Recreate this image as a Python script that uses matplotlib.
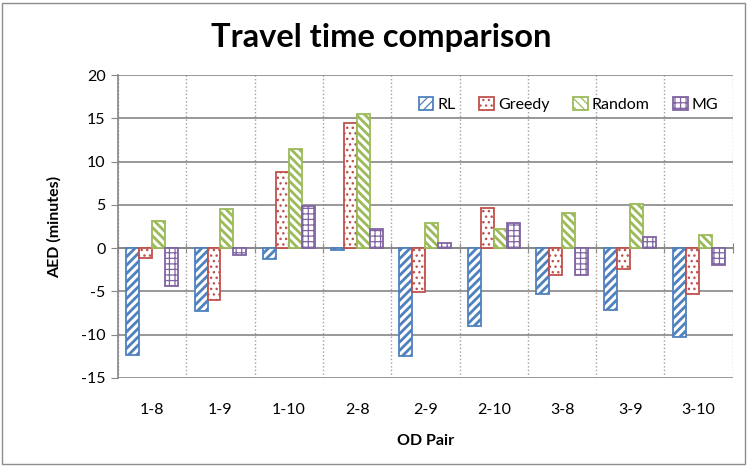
import matplotlib
matplotlib.use("Agg")
import matplotlib.pyplot as plt
from matplotlib.patches import Rectangle
import numpy as np

categories = ["1-8", "1-9", "1-10", "2-8", "2-9", "2-10", "3-8", "3-9", "3-10"]
rl = [-12.4, -7.3, -1.3, -0.2, -12.5, -9.0, -5.3, -7.1, -10.3]
greedy = [-1.1, -6.0, 8.75, 14.4, -5.1, 4.6, -3.1, -2.4, -5.3]
random_ = [3.1, 4.5, 11.45, 15.5, 2.9, 2.2, 4.0, 5.1, 1.5]
mg = [-4.4, -0.8, 4.85, 2.2, 0.6, 2.9, -3.1, 1.3, -2.0]
series_names = ["RL", "Greedy", "Random", "MG"]
y_ticks = [-15, -10, -5, 0, 5, 10, 15, 20]

colors = ["#4F81BD", "#C0504D", "#9BBB59", "#8064A2"]
hatches = ["////", "...", "\\\\\\\\", "+++"]
hatch_lw = [2.0, 1.0, 2.0, 0.9]

plt.rcParams['font.family'] = ['Lato', 'DejaVu Sans']

fig = plt.figure(figsize=(7.47, 4.66), dpi=100)
ax = fig.add_axes([0.158, 0.189, 0.823, 0.650])

x = np.arange(len(categories))
w = 0.19
data = [rl, greedy, random_, mg]
handles = []
for i, (vals, name) in enumerate(zip(data, series_names)):
    plt.rcParams['hatch.linewidth'] = hatch_lw[i]
    bars = ax.bar(x + (i - 1.5) * w, vals, w, facecolor="white",
                  edgecolor=colors[i], hatch=hatches[i], linewidth=1.3,
                  label=name, zorder=3)
    handles.append(bars)

ax.set_xlim(-0.5, len(categories) - 0.5)
ax.set_ylim(-15, 20)
ax.set_yticks(y_ticks)
ax.set_yticklabels([str(v) for v in y_ticks], fontsize=11.5)
ax.set_xticks(x)
ax.set_xticklabels(categories, fontsize=11.5)
ax.tick_params(axis='x', length=0, pad=18)
ax.tick_params(axis='y', length=5, color="#868686", direction='out', pad=4)
ax.set_xticks(np.arange(-0.5, len(categories), 1.0), minor=True)
ax.tick_params(axis='x', which='minor', length=0)

ax.grid(axis='y', which='major', color="#868686", linewidth=1.2, zorder=0)
ax.grid(axis='x', which='minor', color="#A0A0A0", linestyle=':', linewidth=1.0, zorder=0)

for s in ["top", "right", "bottom"]:
    ax.spines[s].set_visible(False)
ax.spines["left"].set_color("#868686")
ax.spines["left"].set_linewidth(1.2)

# zero axis with category-boundary ticks
sec = ax.secondary_xaxis(15 / 35)
sec.set_xticks(np.arange(-0.5, len(categories), 1.0))
sec.tick_params(axis='x', direction='inout', length=7, color="#868686", labelbottom=False, labeltop=False)
sec.spines["bottom"].set_color("#868686")
sec.spines["bottom"].set_linewidth(1.2)
sec.spines["top"].set_color("#868686")

ax.set_xlabel("OD Pair", fontsize=11.5, fontweight='bold', labelpad=12)
ax.set_ylabel("AED (minutes)", fontsize=11.5, fontweight='bold', labelpad=14)
fig.suptitle("Travel time comparison", x=0.51, y=0.95, fontsize=23.5, fontweight='bold')

leg = ax.legend(handles=handles, loc='upper right', bbox_to_anchor=(1.0, 0.975), ncol=4,
                frameon=False, fontsize=11.5, handlelength=0.9, handleheight=0.9,
                handletextpad=0.25, columnspacing=1.5)

fig.patches.append(Rectangle((0.003, 0.004), 0.994, 0.99, transform=fig.transFigure,
                             fill=False, edgecolor="#8c8c8c", linewidth=1.0))

fig.savefig("out.png", dpi=100)
